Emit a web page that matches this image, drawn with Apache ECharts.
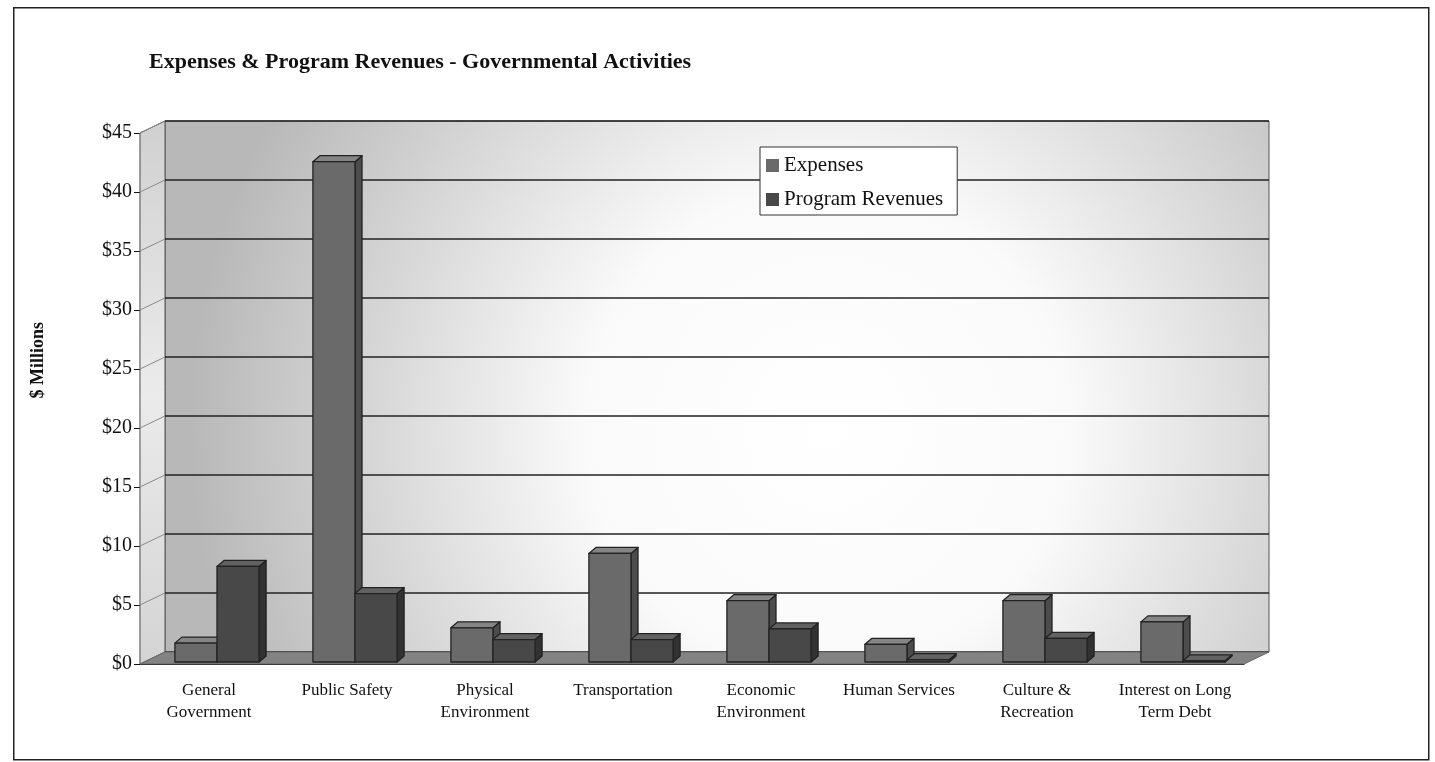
<!DOCTYPE html>
<html><head><meta charset="utf-8">
<script src="https://cdn.jsdelivr.net/npm/echarts@6/dist/echarts.min.js"></script>
<style>html,body{margin:0;padding:0;background:#fff}#c{width:1435px;height:762px}</style>
</head><body><div id="c"></div>
<script>
// ---- data ----
const categories = ['General\nGovernment', 'Public Safety', 'Physical\nEnvironment', 'Transportation',
  'Economic\nEnvironment', 'Human Services', 'Culture &\nRecreation', 'Interest on Long\nTerm Debt'];
const expenses = [1.6, 42.4, 2.9, 9.2, 5.2, 1.5, 5.2, 3.4];
const programRevenues = [8.1, 5.8, 1.9, 1.9, 2.8, 0.2, 2.0, 0.1];
const yTickValues = [0, 5, 10, 15, 20, 25, 30, 35, 40, 45];
const seriesNames = ['Expenses', 'Program Revenues'];

// ---- style ----
const FONT = '"Liberation Serif", "Times New Roman", serif';
const WALL_DX = 25, WALL_DY = -12;   // depth of the 3D walls
const BAR_DX = 7, BAR_DY = -6;       // depth of each bar
const BAR_SHIFT_X = 8, BAR_SHIFT_Y = -2;
const palette = [
  { front: '#6a6a6a', top: '#858585', side: '#4c4c4c' },
  { front: '#484848', top: '#626262', side: '#323232' }
];

const chart = echarts.init(document.getElementById('c'), null, { renderer: 'canvas' });

function frameRender(params, api) {
  const cs = params.coordSys;
  const x = cs.x, y = cs.y, w = cs.width, h = cs.height;
  const children = [];
  // back wall
  children.push({
    type: 'rect',
    shape: { x: x + WALL_DX, y: y + WALL_DY, width: w, height: h },
    style: {
      fill: new echarts.graphic.RadialGradient(0.6, 0.58, 1.2, [
        { offset: 0, color: '#ffffff' },
        { offset: 0.38, color: '#fafafa' },
        { offset: 0.7, color: '#d8d8d8' },
        { offset: 1, color: '#b8b8b8' }
      ]),
      stroke: '#555', lineWidth: 1
    }
  });
  // left wall
  children.push({
    type: 'polygon',
    shape: { points: [[x, y], [x + WALL_DX, y + WALL_DY], [x + WALL_DX, y + h + WALL_DY], [x, y + h]] },
    style: {
      fill: new echarts.graphic.LinearGradient(0, 0, 0, 1, [
        { offset: 0, color: '#d0d0d0' },
        { offset: 0.5, color: '#ebebeb' },
        { offset: 1, color: '#d4d4d4' }
      ]),
      stroke: '#555', lineWidth: 1
    }
  });
  // gridlines on back wall + left wall
  yTickValues.forEach(v => {
    const yy = api.coord([0, v])[1];
    children.push({
      type: 'line',
      shape: { x1: x + WALL_DX, y1: yy + WALL_DY, x2: x + w + WALL_DX, y2: yy + WALL_DY },
      style: { stroke: '#222222', lineWidth: 1.3 }
    });
    children.push({
      type: 'line',
      shape: { x1: x, y1: yy, x2: x + WALL_DX, y2: yy + WALL_DY },
      style: { stroke: '#8a8a8a', lineWidth: 1 }
    });
  });
  // floor
  children.push({
    type: 'polygon',
    shape: { points: [[x, y + h], [x + WALL_DX, y + h + WALL_DY], [x + w + WALL_DX, y + h + WALL_DY], [x + w, y + h]] },
    style: { fill: '#838383', stroke: '#666', lineWidth: 1 }
  });
  return { type: 'group', children };
}

function barRender(sIdx) {
  return function (params, api) {
    const i = api.value(0), v = api.value(1);
    const base = api.coord([i, 0]);
    const top = api.coord([i, v]);
    const bw = api.size([1, 0])[0];
    const w = bw * 0.305;
    const x0 = base[0] - w + sIdx * w + BAR_SHIFT_X;
    const y0 = base[1] + BAR_SHIFT_Y;
    const yt = top[1] + BAR_SHIFT_Y;
    const c = palette[sIdx];
    const st = { stroke: '#222', lineWidth: 1.3, lineJoin: 'round' };
    return {
      type: 'group',
      children: [
        { type: 'polygon', shape: { points: [[x0 + w, yt], [x0 + w + BAR_DX, yt + BAR_DY], [x0 + w + BAR_DX, y0 + BAR_DY], [x0 + w, y0]] },
          style: Object.assign({ fill: c.side }, st) },
        { type: 'polygon', shape: { points: [[x0, yt], [x0 + BAR_DX, yt + BAR_DY], [x0 + w + BAR_DX, yt + BAR_DY], [x0 + w, yt]] },
          style: Object.assign({ fill: c.top }, st) },
        { type: 'rect', shape: { x: x0, y: yt, width: w, height: y0 - yt },
          style: Object.assign({ fill: c.front }, st) }
      ]
    };
  };
}

const option = {
  backgroundColor: '#ffffff',
  animation: false,
  title: {
    text: 'Expenses & Program Revenues - Governmental Activities',
    left: 144, top: 46,
    textStyle: { fontFamily: FONT, fontSize: 22, fontWeight: 'bold', color: '#111' }
  },
  legend: {
    orient: 'vertical',
    left: 760, top: 147,
    data: seriesNames,
    icon: 'rect',
    itemWidth: 13, itemHeight: 13, itemGap: 13,
    padding: [8, 14, 5, 6],
    borderColor: '#333', borderWidth: 1,
    backgroundColor: '#ffffff',
    textStyle: { fontFamily: FONT, fontSize: 21, color: '#111' }
  },
  grid: { left: 140, right: 191, top: 133, bottom: 98 },
  xAxis: {
    type: 'category',
    data: categories,
    axisLine: { lineStyle: { color: '#111', width: 1.2 } },
    axisTick: { length: 6, lineStyle: { color: '#111' } },
    axisLabel: { fontFamily: FONT, fontSize: 17, color: '#111', lineHeight: 22, margin: 16, interval: 0 }
  },
  yAxis: {
    type: 'value',
    min: 0, max: 45, interval: 5,
    axisLine: { show: true, lineStyle: { color: '#111', width: 1.2 } },
    axisTick: { show: true, length: 6, lineStyle: { color: '#111' } },
    splitLine: { show: false },
    axisLabel: { fontFamily: FONT, fontSize: 20, color: '#111', margin: 8, formatter: v => '$' + v }
  },
  graphic: [
    { type: 'rect', left: 13, top: 7, shape: { width: 1415, height: 752 },
      style: { fill: 'transparent', stroke: '#222', lineWidth: 1.5 }, z: -1 },
    { type: 'text', left: 29, top: 322, rotation: Math.PI / 2,
      style: { text: '$ Millions', font: 'bold 18px ' + FONT, fill: '#111' } }
  ],
  series: [
    { type: 'custom', name: 'frame', renderItem: frameRender, data: [[0, 0]], z: 1, silent: true, clip: false },
    { type: 'custom', name: seriesNames[0], renderItem: barRender(0), itemStyle: { color: palette[0].front },
      data: expenses.map((v, i) => [i, v]), z: 2, clip: false },
    { type: 'custom', name: seriesNames[1], renderItem: barRender(1), itemStyle: { color: palette[1].front },
      data: programRevenues.map((v, i) => [i, v]), z: 3, clip: false }
  ]
};
chart.setOption(option);
</script>
</body></html>
